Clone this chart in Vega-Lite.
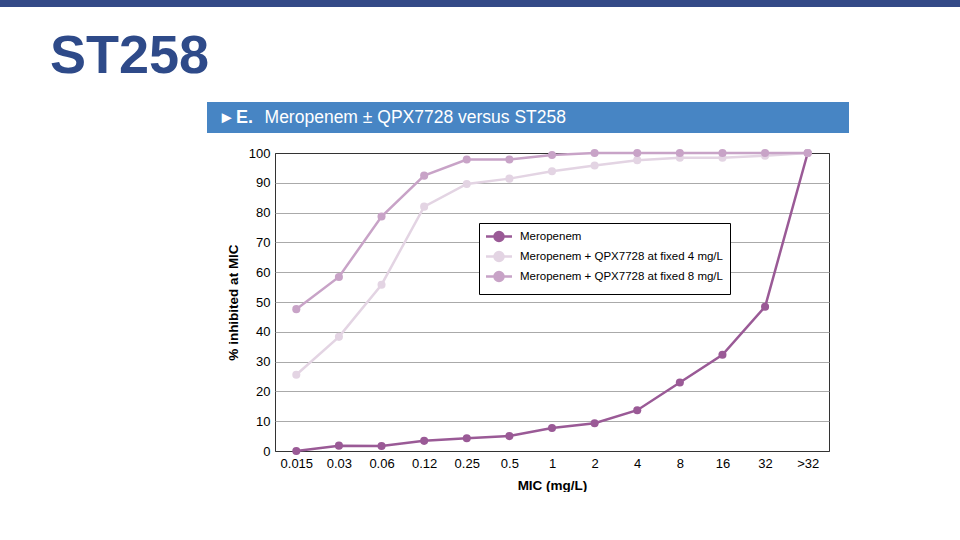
{
  "$schema": "https://vega.github.io/schema/vega-lite/v6.json",
  "padding": 0,
  "autosize": {"type": "pad"},
  "background": "white",
  "spacing": 0,
  "bounds": "full",
  "config": {
    "view": {"stroke": null},
    "font": "Liberation Sans"
  },
  "vconcat": [
    {
      "width": 960, "height": 7,
      "view": {"fill": "#344a87", "stroke": null},
      "data": {"values": []},
      "mark": "text"
    },
    {
      "width": 1, "height": 4,
      "data": {"values": []},
      "mark": "text"
    },
    {
      "width": 100, "height": 91,
      "data": {"values": [{"heading": "ST258"}]},
      "mark": {"type": "text", "align": "left", "baseline": "middle", "fontSize": 54, "fontWeight": "bold", "font": "Liberation Sans", "color": "#2e4a89"},
      "encoding": {"text": {"field": "heading"}}
    },
    {
      "spacing": 0,
      "bounds": "flush",
      "hconcat": [
        {"width": 207, "height": 31, "data": {"values": []}, "mark": "text"},
        {
          "width": 92, "height": 31,
          "view": {"fill": "#4785c4", "stroke": null},
          "data": {"values": [{"label": "▸ E."}]},
          "mark": {"type": "text", "align": "right", "baseline": "middle", "fontSize": 18, "fontWeight": "bold", "color": "white"},
          "encoding": {"text": {"field": "label"}}
        },
        {
          "width": 534, "height": 31,
          "view": {"fill": "#4785c4", "stroke": null},
          "data": {"values": [{"label": "Meropenem ± QPX7728 versus ST258"}]},
          "mark": {"type": "text", "align": "right", "baseline": "middle", "fontSize": 17.5, "color": "white"},
          "encoding": {"text": {"field": "label"}}
        },
        {
          "width": 16, "height": 31,
          "view": {"fill": "#4785c4", "stroke": null},
          "data": {"values": []},
          "mark": "text"
        }
      ]
    },
    {
      "width": 1, "height": 13,
      "data": {"values": []},
      "mark": "text"
    },
    {
      "spacing": 0,
      "bounds": "flush",
      "hconcat": [
        {"width": 275, "height": 298, "data": {"values": []}, "mark": "text"},
        {
          "width": 554, "height": 298,
          "view": {"stroke": "#333333", "strokeWidth": 1, "fill": "white"},
          "data": {"values": [
            {"mic": "0.015", "series": "Meropenem", "pct": 0},
            {"mic": "0.03", "series": "Meropenem", "pct": 1.8},
            {"mic": "0.06", "series": "Meropenem", "pct": 1.7},
            {"mic": "0.12", "series": "Meropenem", "pct": 3.4},
            {"mic": "0.25", "series": "Meropenem", "pct": 4.3},
            {"mic": "0.5", "series": "Meropenem", "pct": 5.0},
            {"mic": "1", "series": "Meropenem", "pct": 7.7},
            {"mic": "2", "series": "Meropenem", "pct": 9.3},
            {"mic": "4", "series": "Meropenem", "pct": 13.7},
            {"mic": "8", "series": "Meropenem", "pct": 23.0},
            {"mic": "16", "series": "Meropenem", "pct": 32.3},
            {"mic": "32", "series": "Meropenem", "pct": 48.4},
            {"mic": ">32", "series": "Meropenem", "pct": 100},
            {"mic": "0.015", "series": "Meropenem + QPX7728 at fixed 4 mg/L", "pct": 25.6},
            {"mic": "0.03", "series": "Meropenem + QPX7728 at fixed 4 mg/L", "pct": 38.3},
            {"mic": "0.06", "series": "Meropenem + QPX7728 at fixed 4 mg/L", "pct": 55.8},
            {"mic": "0.12", "series": "Meropenem + QPX7728 at fixed 4 mg/L", "pct": 82.0},
            {"mic": "0.25", "series": "Meropenem + QPX7728 at fixed 4 mg/L", "pct": 89.6},
            {"mic": "0.5", "series": "Meropenem + QPX7728 at fixed 4 mg/L", "pct": 91.4},
            {"mic": "1", "series": "Meropenem + QPX7728 at fixed 4 mg/L", "pct": 93.9},
            {"mic": "2", "series": "Meropenem + QPX7728 at fixed 4 mg/L", "pct": 95.8},
            {"mic": "4", "series": "Meropenem + QPX7728 at fixed 4 mg/L", "pct": 97.6},
            {"mic": "8", "series": "Meropenem + QPX7728 at fixed 4 mg/L", "pct": 98.4},
            {"mic": "16", "series": "Meropenem + QPX7728 at fixed 4 mg/L", "pct": 98.4},
            {"mic": "32", "series": "Meropenem + QPX7728 at fixed 4 mg/L", "pct": 99.1},
            {"mic": ">32", "series": "Meropenem + QPX7728 at fixed 4 mg/L", "pct": 100},
            {"mic": "0.015", "series": "Meropenem + QPX7728 at fixed 8 mg/L", "pct": 47.6},
            {"mic": "0.03", "series": "Meropenem + QPX7728 at fixed 8 mg/L", "pct": 58.4},
            {"mic": "0.06", "series": "Meropenem + QPX7728 at fixed 8 mg/L", "pct": 78.7},
            {"mic": "0.12", "series": "Meropenem + QPX7728 at fixed 8 mg/L", "pct": 92.4},
            {"mic": "0.25", "series": "Meropenem + QPX7728 at fixed 8 mg/L", "pct": 97.8},
            {"mic": "0.5", "series": "Meropenem + QPX7728 at fixed 8 mg/L", "pct": 97.8},
            {"mic": "1", "series": "Meropenem + QPX7728 at fixed 8 mg/L", "pct": 99.3},
            {"mic": "2", "series": "Meropenem + QPX7728 at fixed 8 mg/L", "pct": 100},
            {"mic": "4", "series": "Meropenem + QPX7728 at fixed 8 mg/L", "pct": 100},
            {"mic": "8", "series": "Meropenem + QPX7728 at fixed 8 mg/L", "pct": 100},
            {"mic": "16", "series": "Meropenem + QPX7728 at fixed 8 mg/L", "pct": 100},
            {"mic": "32", "series": "Meropenem + QPX7728 at fixed 8 mg/L", "pct": 100},
            {"mic": ">32", "series": "Meropenem + QPX7728 at fixed 8 mg/L", "pct": 100}
          ]},
          "encoding": {
            "x": {
              "field": "mic", "type": "ordinal",
              "sort": ["0.015", "0.03", "0.06", "0.12", "0.25", "0.5", "1", "2", "4", "8", "16", "32", ">32"],
              "scale": {"type": "point", "padding": 0.5},
              "axis": {
                "title": "MIC (mg/L)", "labelAngle": 0, "domain": false, "ticks": false, "grid": false,
                "labelFont": "Liberation Sans", "labelFontSize": 13, "labelColor": "black", "labelPadding": 6,
                "titleFont": "Liberation Sans", "titleFontSize": 13.5, "titleFontWeight": "bold", "titleColor": "black", "titlePadding": 8
              }
            },
            "y": {
              "field": "pct", "type": "quantitative",
              "scale": {"domain": [0, 100], "nice": false},
              "axis": {
                "title": "% inhibited at MIC", "values": [0, 10, 20, 30, 40, 50, 60, 70, 80, 90, 100],
                "domain": false, "ticks": false, "grid": true,
                "gridColor": {"condition": {"test": "datum.value === 0 || datum.value === 100", "value": "#333333"}, "value": "#aaaaaa"},
                "labelFont": "Liberation Sans", "labelFontSize": 13, "labelColor": "black", "labelPadding": 5,
                "titleFont": "Liberation Sans", "titleFontSize": 13.5, "titleFontWeight": "bold", "titleColor": "black", "titlePadding": 8
              }
            },
            "color": {
              "field": "series", "type": "nominal",
              "scale": {
                "domain": ["Meropenem", "Meropenem + QPX7728 at fixed 4 mg/L", "Meropenem + QPX7728 at fixed 8 mg/L"],
                "range": ["#9a5a96", "#e3d4e3", "#c8a3c7"]
              },
              "legend": {
                "orient": "none", "legendX": 479, "legendY": 223, "title": null,
                "fillColor": "white", "strokeColor": "black", "padding": 7, "cornerRadius": 0,
                "labelFont": "Liberation Sans", "labelFontSize": 11.5, "labelColor": "black", "labelOffset": 21, "labelLimit": 400,
                "symbolType": "M-1.3,0H3.9M0.4,0A0.9,0.9,0,1,0,2.2,0A0.9,0.9,0,1,0,0.4,0Z",
                "symbolSize": 100, "symbolStrokeWidth": 2.5, "rowPadding": -1,
                "encode": {"symbols": {"update": {"fill": {"scale": "color", "field": "value"}, "stroke": {"scale": "color", "field": "value"}}}}
              }
            }
          },
          "layer": [
            {"mark": {"type": "line", "strokeWidth": 2.5}},
            {"mark": {"type": "point", "filled": true, "size": 65, "opacity": 1}}
          ]
        }
      ]
    }
  ]
}
